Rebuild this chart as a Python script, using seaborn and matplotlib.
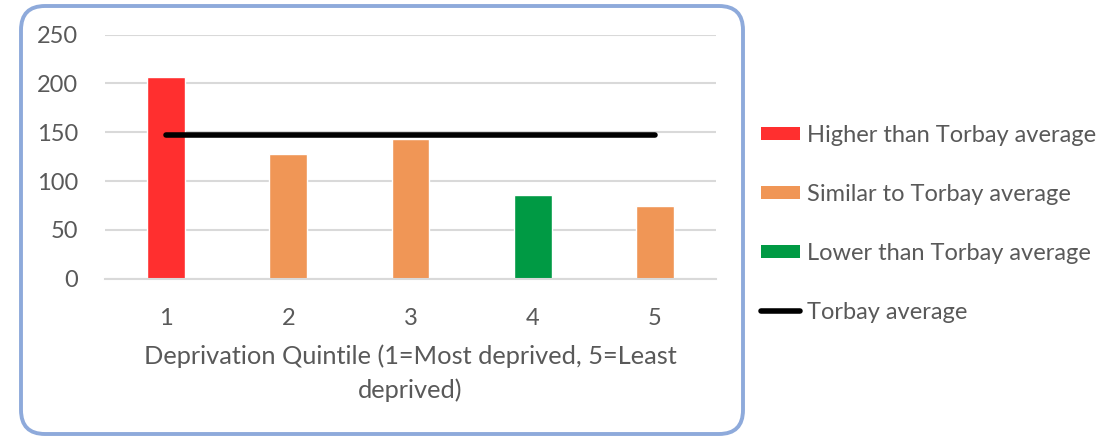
import matplotlib
matplotlib.use("Agg")
import matplotlib.pyplot as plt
from matplotlib.patches import FancyBboxPatch, Patch
from matplotlib.lines import Line2D
import seaborn as sns
import pandas as pd

# Data
quintiles = ["1", "2", "3", "4", "5"]
rates = [206, 128, 143, 86, 74]
comparison = [
    "Higher than Torbay average",
    "Similar to Torbay average",
    "Similar to Torbay average",
    "Lower than Torbay average",
    "Similar to Torbay average",
]
torbay_average = 147
legend_order = [
    "Higher than Torbay average",
    "Similar to Torbay average",
    "Lower than Torbay average",
]
palette = {
    "Higher than Torbay average": "#ff2f2f",
    "Similar to Torbay average": "#f09656",
    "Lower than Torbay average": "#009a44",
}
y_ticks = [0, 50, 100, 150, 200, 250]
x_label = "Deprivation Quintile (1=Most deprived, 5=Least\ndeprived)"

df = pd.DataFrame({"quintile": quintiles, "rate": rates, "comparison": comparison})

sns.set_theme(style="white")
plt.rcParams["font.family"] = ["Lato", "DejaVu Sans"]
text_color = "#595959"
grid_color = "#d9d9d9"

fig = plt.figure(figsize=(11.06, 4.37), dpi=100)
ax = fig.add_axes([105 / 1106, 1 - 278.7 / 437, (716 - 105) / 1106, (278.7 - 34.5) / 437])

sns.barplot(
    data=df, x="quintile", y="rate", hue="comparison", hue_order=legend_order,
    palette=palette, dodge=False, width=0.31, saturation=1, legend=False, ax=ax,
)

# Torbay average line across the quintiles
ax.plot([0, len(quintiles) - 1], [torbay_average] * 2, color="black", lw=4,
        solid_capstyle="round", zorder=5)

ax.set_xlim(-0.5, len(quintiles) - 0.5)
ax.set_ylim(0, 250)
ax.set_yticks(y_ticks)
ax.yaxis.grid(True, color=grid_color, lw=1.5)
ax.set_axisbelow(True)
for side in ["top", "right", "left"]:
    ax.spines[side].set_visible(False)
ax.spines["bottom"].set_color(grid_color)
ax.spines["bottom"].set_linewidth(1.5)
ax.tick_params(axis="both", length=0, labelsize=17, labelcolor=text_color)
ax.tick_params(axis="y", pad=19.5)
ax.tick_params(axis="x", pad=21)
ax.set_ylabel("")
ax.set_xlabel(x_label, fontsize=18.3, color=text_color, labelpad=11, linespacing=1.52)

# Legend to the right
handles = [Patch(facecolor=palette[k], edgecolor="none") for k in legend_order]
handles.append(Line2D([0], [0], color="black", lw=4, solid_capstyle="round"))
labels = legend_order + ["Torbay average"]
fig.legend(
    handles, labels, loc="upper left", bbox_to_anchor=(761 / 1106, 1 - 125 / 437),
    frameon=False, fontsize=17, labelcolor=text_color, handlelength=1.65,
    handleheight=0.5, handletextpad=0.3, labelspacing=1.61, borderaxespad=0,
    borderpad=0,
)

# Rounded border around the chart
border = FancyBboxPatch(
    (21, 437 - 434), 722, 434 - 6,
    boxstyle="round,pad=0,rounding_size=24",
    transform=None, facecolor="none", edgecolor="#8eaadb", lw=2.8,
)
fig.patches.append(border)

fig.savefig("out.png", dpi=100)
